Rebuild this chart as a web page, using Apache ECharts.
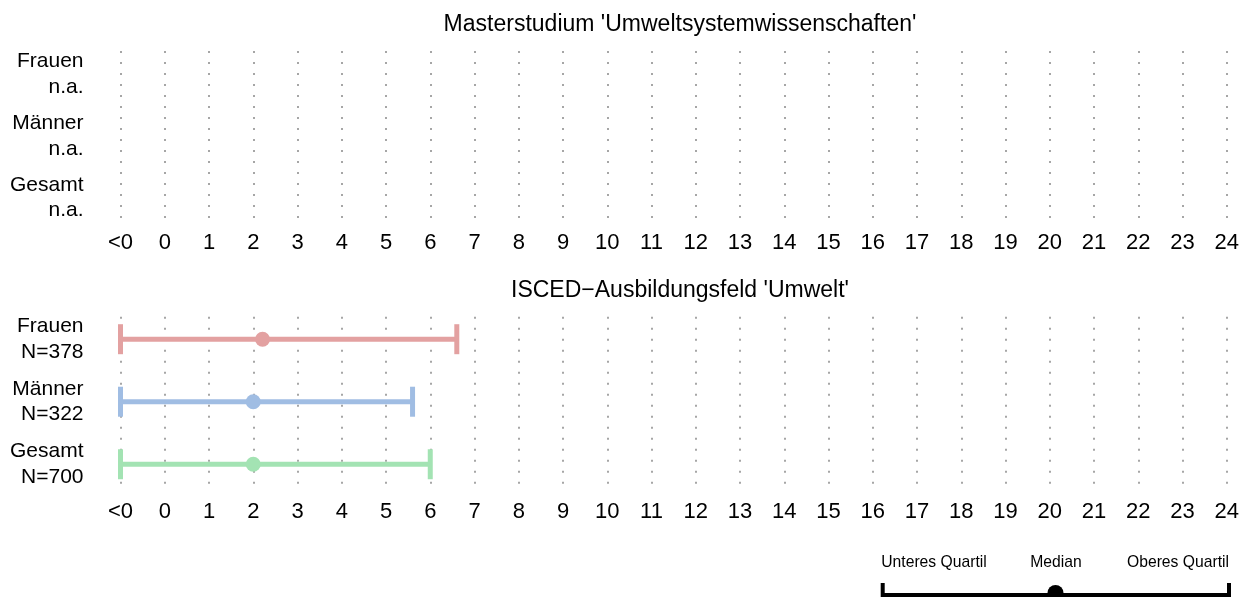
<!DOCTYPE html>
<html>
<head>
<meta charset="utf-8">
<script src="https://cdn.jsdelivr.net/npm/echarts@6/dist/echarts.min.js"></script>
<style>
html,body{margin:0;padding:0;background:#fff;}
#chart{width:1242px;height:597px;}
</style>
</head>
<body>
<div id="chart"></div>
<script>
// ---- data ----
const groups = ['Frauen', 'Männer', 'Gesamt'];
const topPanelInfo = ['n.a.', 'n.a.', 'n.a.'];
const bottomN = [378, 322, 700];
const lowerQuartile = [-1, -1, -1];      // -1 is the "<0" position
const medianValue = [2.21, 2.0, 2.0];
const upperQuartile = [6.6, 5.6, 6.0];
const xTickLabels = ['<0','0','1','2','3','4','5','6','7','8','9','10','11','12','13','14','15','16','17','18','19','20','21','22','23','24'];
const panelTitles = ["Masterstudium 'Umweltsystemwissenschaften'", "ISCED\u2212Ausbildungsfeld 'Umwelt'"];
const groupColors = ['#E3A1A1', '#A0BDE3', '#A3E3B3'];

const FONT = 'Liberation Sans, Arial, Helvetica, sans-serif';

const chart = echarts.init(document.getElementById('chart'), null, {renderer: 'canvas'});

function xAxis(gridIndex, margin) {
  return {
    type: 'value', gridIndex: gridIndex, min: -1, max: 24, interval: 1,
    axisLine: {show: false}, axisTick: {show: false},
    axisLabel: {
      color: '#000', fontSize: 22, fontFamily: FONT, margin: margin,
      formatter: function (v) { return xTickLabels[Math.round(v) + 1]; }
    },
    splitLine: {show: true, lineStyle: {color: '#A6A6A6', width: 2, type: [2, 9]}}
  };
}
function yAxis(gridIndex, min, max, infoArr) {
  return {
    type: 'value', gridIndex: gridIndex, inverse: true, min: min, max: max,
    axisLine: {show: false}, axisTick: {show: false}, splitLine: {show: false},
    axisLabel: {
      customValues: [1, 2, 3],
      color: '#000', fontSize: 21, lineHeight: 25.6, fontFamily: FONT, margin: 37, align: 'right',
      formatter: function (v) { return groups[Math.round(v) - 1] + '\n' + infoArr[Math.round(v) - 1]; }
    }
  };
}

const bottomInfo = bottomN.map(n => 'N=' + n);
const barData = groups.map((g, i) => [i + 1, lowerQuartile[i], medianValue[i], upperQuartile[i]]);

const option = {
  animation: false,
  title: [
    {text: panelTitles[0], left: 675, top: 8, textAlign: 'center',
     textStyle: {fontSize: 23, fontWeight: 'normal', color: '#000', fontFamily: FONT}},
    {text: panelTitles[1], left: 675, top: 274, textAlign: 'center',
     textStyle: {fontSize: 23, fontWeight: 'normal', color: '#000', fontFamily: FONT}}
  ],
  grid: [
    {left: 120.5, right: 13.5, top: 51, height: 169},
    {left: 120.5, right: 13.5, top: 316.7, height: 171.3}
  ],
  xAxis: [xAxis(0, 12), xAxis(1, 13)],
  yAxis: [yAxis(0, 0.62, 3.36, topPanelInfo), yAxis(1, 0.64, 3.38, bottomInfo)],
  series: [{
    type: 'custom', xAxisIndex: 1, yAxisIndex: 1,
    encode: {x: [1, 2, 3], y: 0},
    data: barData,
    renderItem: function (params, api) {
      const idx = params.dataIndex;
      const y = api.value(0);
      const pL = api.coord([api.value(1), y]);
      const pM = api.coord([api.value(2), y]);
      const pU = api.coord([api.value(3), y]);
      const c = groupColors[idx];
      const capH = 15;
      return {
        type: 'group',
        children: [
          {type: 'line', shape: {x1: pL[0], y1: pL[1], x2: pU[0], y2: pU[1]}, style: {stroke: c, lineWidth: 5}},
          {type: 'line', shape: {x1: pL[0], y1: pL[1] - capH, x2: pL[0], y2: pL[1] + capH}, style: {stroke: c, lineWidth: 5}},
          {type: 'line', shape: {x1: pU[0], y1: pU[1] - capH, x2: pU[0], y2: pU[1] + capH}, style: {stroke: c, lineWidth: 5}},
          {type: 'circle', shape: {cx: pM[0], cy: pM[1], r: 7.5}, style: {fill: c}}
        ]
      };
    }
  }],
  graphic: [
    {type: 'text', x: 934, y: 563, style: {text: 'Unteres Quartil', fontSize: 15.7, fontFamily: FONT, fill: '#000', align: 'center', verticalAlign: 'middle'}},
    {type: 'text', x: 1056, y: 563, style: {text: 'Median', fontSize: 15.7, fontFamily: FONT, fill: '#000', align: 'center', verticalAlign: 'middle'}},
    {type: 'text', x: 1178, y: 563, style: {text: 'Oberes Quartil', fontSize: 15.7, fontFamily: FONT, fill: '#000', align: 'center', verticalAlign: 'middle'}},
    {type: 'line', shape: {x1: 882.7, y1: 595, x2: 1229, y2: 595}, style: {stroke: '#000', lineWidth: 4}},
    {type: 'line', shape: {x1: 882.7, y1: 583, x2: 882.7, y2: 610}, style: {stroke: '#000', lineWidth: 4}},
    {type: 'line', shape: {x1: 1229, y1: 583, x2: 1229, y2: 610}, style: {stroke: '#000', lineWidth: 4}},
    {type: 'circle', shape: {cx: 1055.5, cy: 593, r: 8}, style: {fill: '#000'}}
  ]
};
chart.setOption(option);
</script>
</body>
</html>
